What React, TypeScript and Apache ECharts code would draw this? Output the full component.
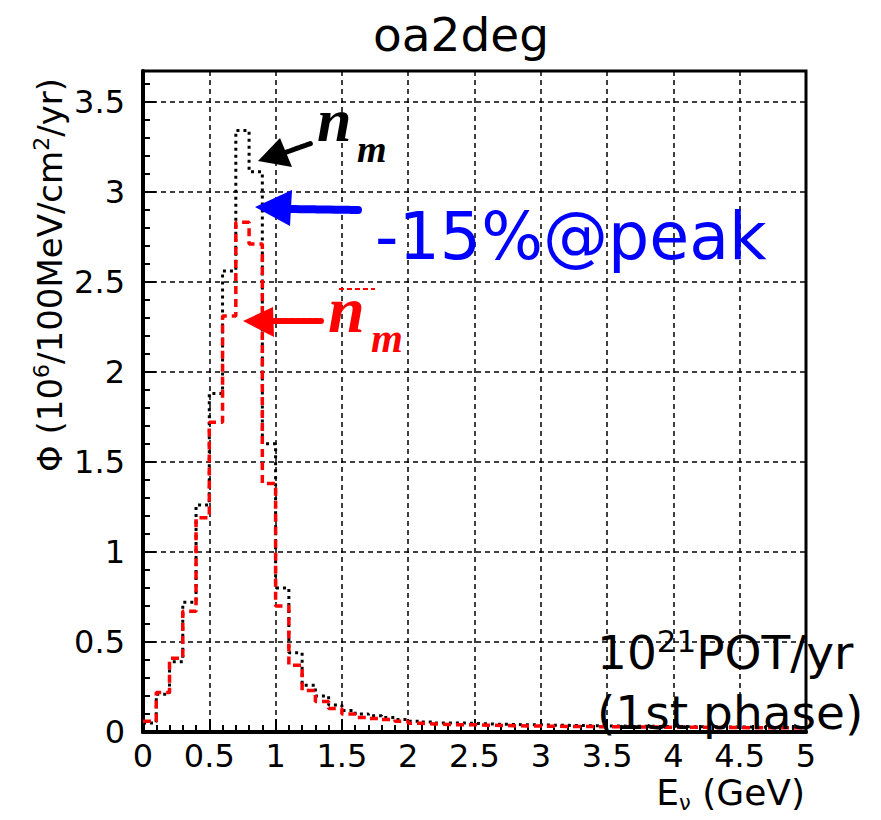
import React, { useEffect, useRef } from "react";
import * as echarts from "echarts";

const TITLE = "oa2deg";
const BIN_WIDTH = 0.1;
const X_TICKS = ["0", "0.5", "1", "1.5", "2", "2.5", "3", "3.5", "4", "4.5", "5"];

// nu_mu flux per 0.1 GeV bin (black dotted)
const numuFlux = [
  0.05, 0.21, 0.39, 0.72, 1.26, 1.88, 2.56, 3.34, 3.11, 1.6,
  0.8, 0.44, 0.26, 0.2, 0.15, 0.12, 0.1, 0.09, 0.08, 0.07,
  0.06, 0.055, 0.05, 0.05, 0.048, 0.045, 0.043, 0.042, 0.04, 0.04,
  0.038, 0.037, 0.036, 0.035, 0.034, 0.033, 0.032, 0.032, 0.031, 0.03,
  0.03, 0.029, 0.029, 0.028, 0.028, 0.027, 0.027, 0.026, 0.026, 0.025,
];

// reduced flux (red dashed)
const numuBarFlux = [
  0.06, 0.22, 0.41, 0.67, 1.19, 1.72, 2.31, 2.83, 2.71, 1.38,
  0.7, 0.37, 0.23, 0.17, 0.13, 0.1, 0.08, 0.075, 0.07, 0.06,
  0.048, 0.045, 0.042, 0.04, 0.04, 0.038, 0.036, 0.035, 0.034, 0.033,
  0.032, 0.031, 0.03, 0.03, 0.029, 0.029, 0.028, 0.028, 0.027, 0.027,
  0.026, 0.026, 0.025, 0.025, 0.025, 0.024, 0.024, 0.023, 0.023, 0.022,
];

function toSteps(vals: number[]) {
  const pts: number[][] = vals.map((v, i) => [Math.round(i * BIN_WIDTH * 10) / 10, v]);
  pts.push([Math.round(vals.length * BIN_WIDTH * 10) / 10, vals[vals.length - 1]]);
  return pts;
}

const SANS = "'DejaVu Sans', sans-serif";
const SERIF_BI = "italic bold";

export default function App() {
  const ref = useRef<HTMLDivElement>(null);
  useEffect(() => {
    if (!ref.current) return;
    const chart = echarts.init(ref.current, undefined, { renderer: "svg" });
    chart.setOption({
      animation: false,
      backgroundColor: "#fff",
      title: {
        text: TITLE,
        left: 456,
        textAlign: "center",
        top: 6,
        textStyle: { fontFamily: SANS, fontSize: 47, fontWeight: "normal", color: "#000" },
      },
      grid: {
        left: 143,
        right: 75,
        top: 71,
        bottom: 88,
        show: true,
        borderColor: "#000",
        borderWidth: 3,
        backgroundColor: "transparent",
      },
      xAxis: {
        type: "value",
        min: 0,
        max: 5,
        interval: 0.5,
        axisLine: { show: true, onZero: false, lineStyle: { color: "#000", width: 4 } },
        axisTick: { show: true, inside: true, length: 13, lineStyle: { color: "#000", width: 2 } },
        minorTick: { show: true, splitNumber: 5, length: 7, lineStyle: { color: "#000", width: 2 } },
        splitLine: { show: true, lineStyle: { color: "#000", width: 1.5, type: [5, 4] } },
        axisLabel: {
          margin: 8,
          fontFamily: SANS,
          fontSize: 32,
          color: "#000",
          formatter: (v: number) => {
            const idx = Math.round(v / 0.5);
            return Math.abs(v - idx * 0.5) < 1e-6 ? X_TICKS[idx] : "";
          },
        },
      },
      yAxis: {
        type: "value",
        min: 0,
        max: 3.67,
        interval: 0.5,
        axisLine: { show: true, onZero: false, lineStyle: { color: "#000", width: 4 } },
        axisTick: { show: true, inside: true, length: 13, lineStyle: { color: "#000", width: 2 } },
        minorTick: { show: true, splitNumber: 5, length: 7, lineStyle: { color: "#000", width: 2 } },
        splitLine: { show: true, lineStyle: { color: "#000", width: 1.5, type: [5, 4] } },
        axisLabel: {
          margin: 18,
          fontFamily: SANS,
          fontSize: 32,
          color: "#000",
          showMaxLabel: false,
          formatter: (v: number) => {
            const idx = Math.round(v / 0.5);
            return Math.abs(v - idx * 0.5) < 1e-6 ? String(idx * 0.5) : "";
          },
        },
      },
      series: [
        {
          name: "numu",
          type: "line",
          step: "end",
          showSymbol: false,
          symbol: "none",
          data: toSteps(numuFlux),
          lineStyle: { color: "#000", width: 3, type: [3, 4], cap: "butt" },
          z: 3,
        },
        {
          name: "numubar",
          type: "line",
          step: "end",
          showSymbol: false,
          symbol: "none",
          data: toSteps(numuBarFlux),
          lineStyle: { color: "#f00", width: 3.5, type: [8, 5], cap: "butt" },
          z: 4,
        },
      ],
      graphic: [
        // y axis title
        {
          type: "text",
          x: 70,
          y: 78,
          rotation: Math.PI / 2,
          style: {
            text: "{a|Φ (10}{s|6}{a|/100MeV/cm}{s|2}{a|/yr)}",
            textAlign: "right",
            verticalAlign: "bottom",
            rich: {
              a: { fontFamily: SANS, fontSize: 34, fill: "#000", lineHeight: 40 },
              s: { fontFamily: SANS, fontSize: 22, fill: "#000", verticalAlign: "top", lineHeight: 24 },
            },
          },
        },
        // x axis title
        {
          type: "text",
          x: 805,
          y: 792,
          style: {
            text: "{a|E}{s|ν}{a| (GeV)}",
            textAlign: "right",
            verticalAlign: "middle",
            rich: {
              a: { fontFamily: SANS, fontSize: 36, fill: "#000", lineHeight: 42 },
              s: { fontFamily: SANS, fontSize: 21, fill: "#000", verticalAlign: "bottom", lineHeight: 22 },
            },
          },
        },
        // black arrow
        {
          type: "line",
          shape: { x1: 284, y1: 153, x2: 312, y2: 143 },
          style: { stroke: "#000", lineWidth: 5, lineDash: [4, 2], lineCap: "round" },
          z: 10,
        },
        {
          type: "polygon",
          shape: { points: [[258, 161], [280, 138], [292, 167]] },
          style: { fill: "#000" },
          z: 10,
        },
        {
          type: "text",
          x: 317,
          y: 151,
          style: { text: "n", font: `${SERIF_BI} 62px 'Liberation Serif', serif`, fill: "#000", verticalAlign: "bottom" },
          z: 10,
        },
        {
          type: "text",
          x: 357,
          y: 168,
          style: { text: "m", font: `${SERIF_BI} 38px 'Liberation Serif', serif`, fill: "#000", verticalAlign: "bottom" },
          z: 10,
        },
        // blue arrow
        {
          type: "line",
          shape: { x1: 288, y1: 209, x2: 358, y2: 210 },
          style: { stroke: "#00f", lineWidth: 8, lineDash: [5, 2], lineCap: "round" },
          z: 10,
        },
        {
          type: "polygon",
          shape: { points: [[255, 207], [292, 190], [290, 226]] },
          style: { fill: "#00f" },
          z: 10,
        },
        {
          type: "text",
          x: 375,
          y: 236,
          style: { text: "-15%@peak", font: `65px ${SANS}`, fill: "#00f", verticalAlign: "middle" },
          z: 10,
        },
        // red arrow
        {
          type: "line",
          shape: { x1: 272, y1: 321, x2: 321, y2: 321 },
          style: { stroke: "#f00", lineWidth: 6, lineDash: [4, 2], lineCap: "round" },
          z: 10,
        },
        {
          type: "polygon",
          shape: { points: [[243, 321], [273, 307], [274, 337]] },
          style: { fill: "#f00" },
          z: 10,
        },
        {
          type: "line",
          shape: { x1: 339, y1: 289, x2: 375, y2: 289 },
          style: { stroke: "#f00", lineWidth: 1.8, lineDash: [5, 3] },
          z: 10,
        },
        {
          type: "text",
          x: 328,
          y: 342,
          style: { text: "n", font: `${SERIF_BI} 66px 'Liberation Serif', serif`, fill: "#f00", verticalAlign: "bottom" },
          z: 10,
        },
        {
          type: "text",
          x: 371,
          y: 358,
          style: { text: "m", font: `${SERIF_BI} 41px 'Liberation Serif', serif`, fill: "#f00", verticalAlign: "bottom" },
          z: 10,
        },
        // POT text
        {
          type: "text",
          x: 597,
          y: 652,
          style: {
            text: "{a|10}{s|21}{a|POT/yr}",
            verticalAlign: "middle",
            rich: {
              a: { fontFamily: SANS, fontSize: 47, fill: "#000", lineHeight: 54 },
              s: { fontFamily: SANS, fontSize: 31, fill: "#000", verticalAlign: "top", lineHeight: 40 },
            },
          },
          z: 10,
        },
        {
          type: "text",
          x: 597,
          y: 712,
          style: { text: "(1st phase)", font: `47px ${SANS}`, fill: "#000", verticalAlign: "middle" },
          z: 10,
        },
      ],
    });
    return () => chart.dispose();
  }, []);
  return (
    <div
      ref={ref}
      style={{ position: "absolute", left: 0, top: 0, width: 881, height: 820, background: "#fff" }}
    />
  );
}
